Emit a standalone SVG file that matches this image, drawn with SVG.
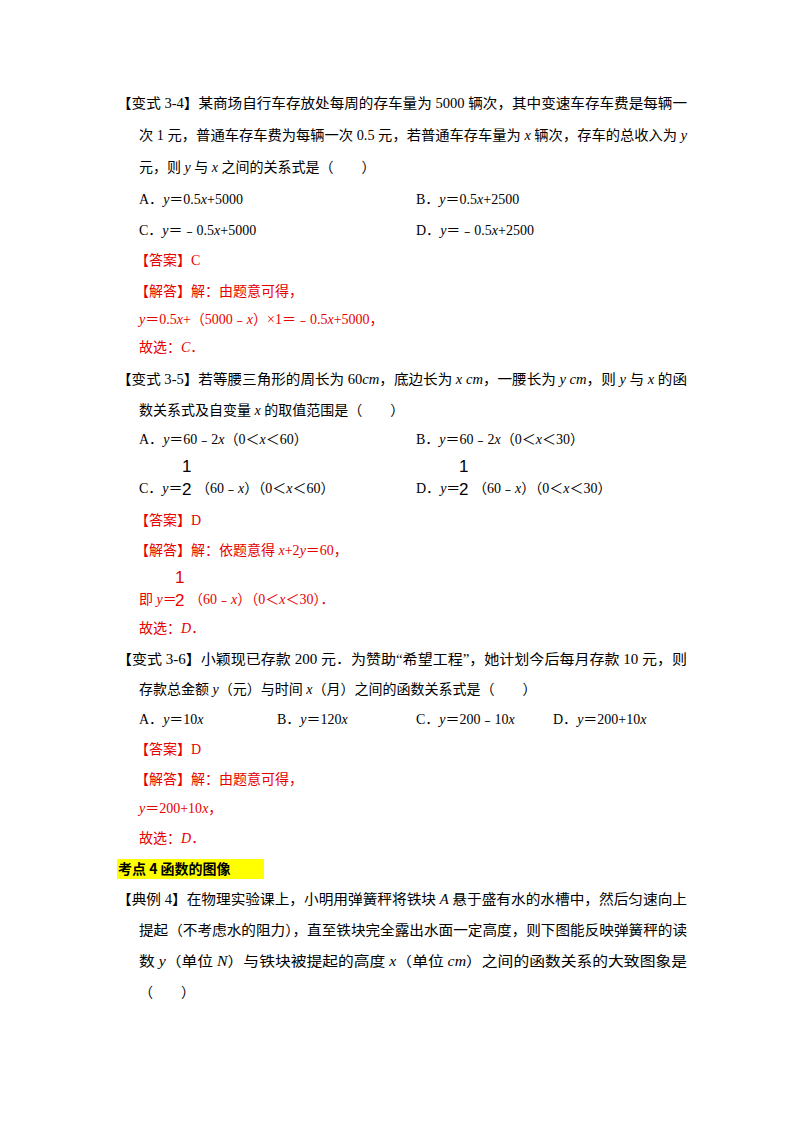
<svg xmlns="http://www.w3.org/2000/svg" width="800" height="1132" viewBox="0 0 800 1132">
<style>
text{font-family:"Liberation Serif","Noto Sans CJK SC",serif;font-size:14px;fill:#000}
.r{fill:#e60000}
.i{font-style:italic}
.f{font-family:"Liberation Sans","Noto Sans CJK SC",sans-serif;font-size:17px}
.b{font-weight:bold;font-family:"Noto Sans CJK SC",sans-serif}
</style>
<rect width="800" height="1132" fill="#fff"/>
<text x="117" y="108" textLength="570" lengthAdjust="spacingAndGlyphs">【变式 3-4】某商场自行车存放处每周的存车量为 5000 辆次，其中变速车存车费是每辆一</text>
<text x="139" y="140" textLength="548" lengthAdjust="spacingAndGlyphs">次 1 元，普通车存车费为每辆一次 0.5 元，若普通车存车量为 <tspan class="i">x</tspan> 辆次，存车的总收入为 <tspan class="i">y</tspan></text>
<text x="139" y="172">元，则 <tspan class="i">y</tspan> 与 <tspan class="i">x</tspan> 之间的关系式是（　　）</text>
<text x="139" y="204">A．<tspan class="i">y</tspan>＝0.5<tspan class="i">x</tspan>+5000</text>
<text x="416" y="204">B．<tspan class="i">y</tspan>＝0.5<tspan class="i">x</tspan>+2500</text>
<text x="139" y="235">C．<tspan class="i">y</tspan>＝﹣0.5<tspan class="i">x</tspan>+5000</text>
<text x="416" y="235">D．<tspan class="i">y</tspan>＝﹣0.5<tspan class="i">x</tspan>+2500</text>
<text class="r" x="135" y="265">【答案】C</text>
<text class="r" x="135" y="296">【解答】解：由题意可得，</text>
<text class="r" x="139" y="324"><tspan class="i">y</tspan>＝0.5<tspan class="i">x</tspan>+（5000﹣<tspan class="i">x</tspan>）×1＝﹣0.5<tspan class="i">x</tspan>+5000，</text>
<text class="r" x="139" y="352">故选：<tspan class="i">C</tspan>．</text>
<text x="117" y="384" textLength="570" lengthAdjust="spacingAndGlyphs">【变式 3-5】若等腰三角形的周长为 60<tspan class="i">cm</tspan>，底边长为 <tspan class="i">x cm</tspan>，一腰长为 <tspan class="i">y cm</tspan>，则 <tspan class="i">y</tspan> 与 <tspan class="i">x</tspan> 的函</text>
<text x="139" y="415">数关系式及自变量 <tspan class="i">x</tspan> 的取值范围是（　　）</text>
<text x="139" y="444">A．<tspan class="i">y</tspan>＝60﹣2<tspan class="i">x</tspan>（0＜<tspan class="i">x</tspan>＜60）</text>
<text x="416" y="444">B．<tspan class="i">y</tspan>＝60﹣2<tspan class="i">x</tspan>（0＜<tspan class="i">x</tspan>＜30）</text>
<text x="139" y="493">C．<tspan class="i">y</tspan>＝</text>
<text class="f" x="182" y="472">1</text><text class="f" x="182" y="495">2</text>
<text x="196" y="493">（60﹣<tspan class="i">x</tspan>）（0＜<tspan class="i">x</tspan>＜60）</text>
<text x="416" y="493">D．<tspan class="i">y</tspan>＝</text>
<text class="f" x="459" y="472">1</text><text class="f" x="459" y="495">2</text>
<text x="473" y="493">（60﹣<tspan class="i">x</tspan>）（0＜<tspan class="i">x</tspan>＜30）</text>
<text class="r" x="135" y="525">【答案】D</text>
<text class="r" x="135" y="555">【解答】解：依题意得 <tspan class="i">x</tspan>+2<tspan class="i">y</tspan>＝60，</text>
<text class="r" x="139" y="604">即 <tspan class="i">y</tspan>＝</text>
<text class="f r" x="175" y="583">1</text><text class="f r" x="175" y="606">2</text>
<text class="r" x="189" y="604">（60﹣<tspan class="i">x</tspan>）（0＜<tspan class="i">x</tspan>＜30）．</text>
<text class="r" x="139" y="633">故选：<tspan class="i">D</tspan>．</text>
<text x="117" y="664" textLength="570" lengthAdjust="spacingAndGlyphs">【变式 3-6】小颖现已存款 200 元．为赞助“希望工程”，她计划今后每月存款 10 元，则</text>
<text x="139" y="694">存款总金额 <tspan class="i">y</tspan>（元）与时间 <tspan class="i">x</tspan>（月）之间的函数关系式是（　　）</text>
<text x="139" y="724">A．<tspan class="i">y</tspan>＝10<tspan class="i">x</tspan></text>
<text x="277" y="724">B．<tspan class="i">y</tspan>＝120<tspan class="i">x</tspan></text>
<text x="416" y="724">C．<tspan class="i">y</tspan>＝200﹣10<tspan class="i">x</tspan></text>
<text x="553" y="724">D．<tspan class="i">y</tspan>＝200+10<tspan class="i">x</tspan></text>
<text class="r" x="135" y="754">【答案】D</text>
<text class="r" x="135" y="784">【解答】解：由题意可得，</text>
<text class="r" x="139" y="813"><tspan class="i">y</tspan>＝200+10<tspan class="i">x</tspan>，</text>
<text class="r" x="139" y="843">故选：<tspan class="i">D</tspan>．</text>
<rect x="117" y="859" width="147" height="20" fill="#ffff00"/>
<text class="b" x="118" y="874" font-size="15">考点 4  函数的图像</text>
<text x="117" y="904" textLength="570" lengthAdjust="spacingAndGlyphs">【典例 4】在物理实验课上，小明用弹簧秤将铁块 <tspan class="i">A</tspan> 悬于盛有水的水槽中，然后匀速向上</text>
<text x="139" y="935" textLength="548" lengthAdjust="spacingAndGlyphs">提起（不考虑水的阻力），直至铁块完全露出水面一定高度，则下图能反映弹簧秤的读</text>
<text x="139" y="966" textLength="548" lengthAdjust="spacingAndGlyphs">数 <tspan class="i">y</tspan>（单位 <tspan class="i">N</tspan>）与铁块被提起的高度 <tspan class="i">x</tspan>（单位 <tspan class="i">cm</tspan>）之间的函数关系的大致图象是</text>
<text x="139" y="997">（　　）</text>
</svg>
